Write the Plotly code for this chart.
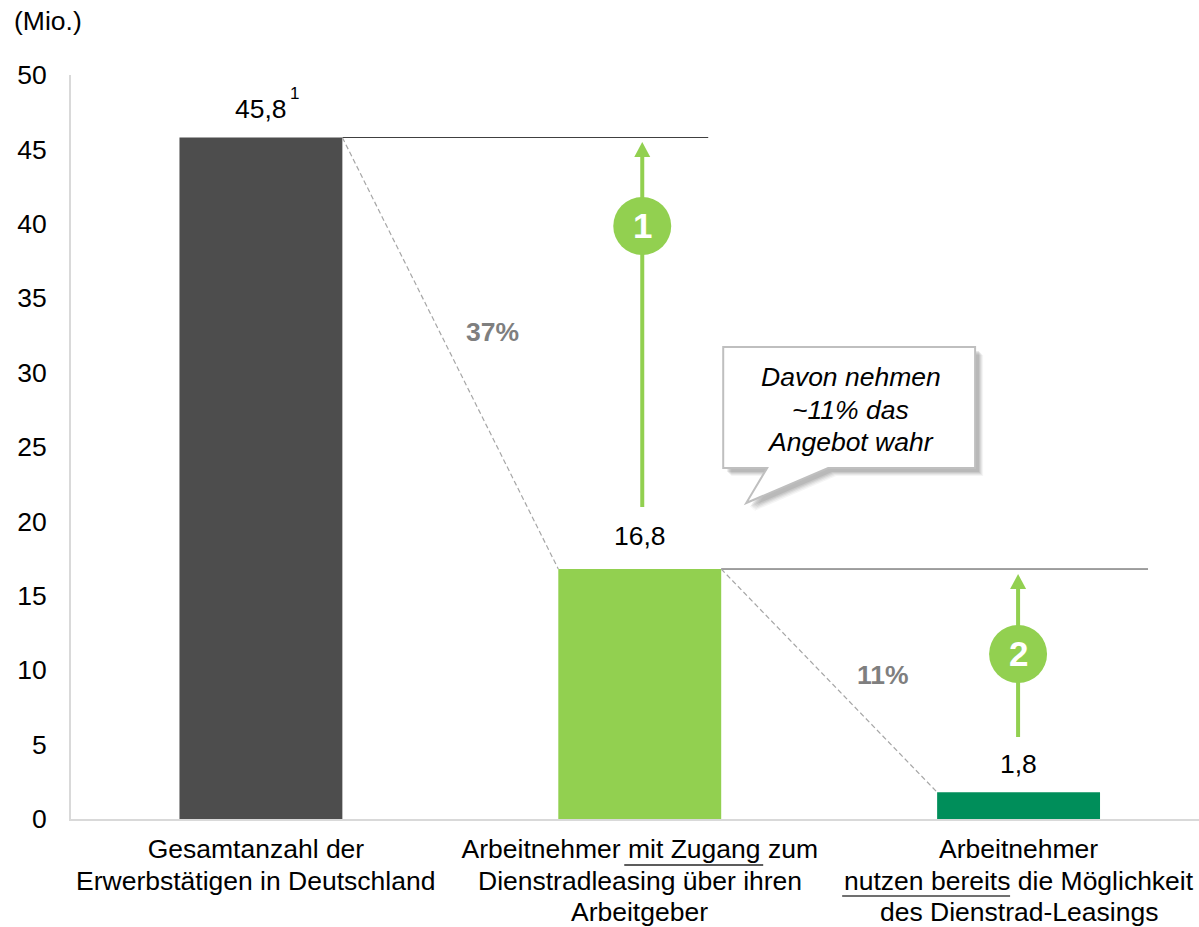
import plotly.graph_objects as go

categories = [["Gesamtanzahl der", "Erwerbstätigen in Deutschland"],
              ["Arbeitnehmer mit Zugang zum", "Dienstradleasing über ihren", "Arbeitgeber"],
              ["Arbeitnehmer", "nutzen bereits die Möglichkeit", "des Dienstrad-Leasings"]]
values = [45.8, 16.8, 1.8]
value_labels = ["45,8", "16,8", "1,8"]
bar_colors = ["#4D4D4D", "#92D050", "#008E5A"]
y_ticks = [0, 5, 10, 15, 20, 25, 30, 35, 40, 45, 50]
share_labels = ["37%", "11%"]
callout_lines = ["Davon nehmen", "~11% das", "Angebot wahr"]

W, H = 1199, 927
L, R, T, B = 70.5, 1199, 75, 819
FONT = "Liberation Sans"
FS = 26.5
BAR_W = 0.43
CAT_PX = 379
x_lo = -(260.5 - 70.5) / CAT_PX
x_hi = x_lo + (R - L) / CAT_PX
LABEL_SHIFT = -5 / CAT_PX  # first category label sits slightly left of its bar


def px(x):
    return x_lo + (x - L) / CAT_PX


def py(y):
    return (B - y) / (B - T) * 50


shapes = []
annotations = []


def line(x0, y0, x1, y1, color, width, dash="solid"):
    shapes.append(dict(type="line", xref="x", yref="y", x0=x0, y0=y0, x1=x1, y1=y1,
                       line=dict(color=color, width=width, dash=dash), layer="above"))


def paper_line(x0, x1, y, color, width):
    shapes.append(dict(type="line", xref="paper", yref="paper",
                       x0=(x0 - L) / (R - L), x1=(x1 - L) / (R - L),
                       y0=(B - y) / (B - T), y1=(B - y) / (B - T),
                       line=dict(color=color, width=width), layer="above"))


def poly(points, fill, border=None, bw=0):
    path = "M " + " L ".join(f"{px(a):.5f},{py(b):.5f}" for a, b in points) + " Z"
    shapes.append(dict(type="path", xref="x", yref="y", path=path, fillcolor=fill,
                       line=dict(color=border or "rgba(0,0,0,0)", width=bw), layer="above"))


def label(x, y, text, size=FS, color="#000000"):
    annotations.append(dict(xref="paper", yref="paper",
                            x=(x - L) / (R - L), y=(B - y) / (B - T), text=text,
                            showarrow=False, font=dict(family=FONT, size=size, color=color),
                            xanchor="center", yanchor="middle"))


# guide lines from the bar tops
line(0 + BAR_W / 2, values[0], px(708), values[0], "#404040", 1)
line(1 + BAR_W / 2, values[1], px(1148), values[1], "#404040", 1)
line(0 + BAR_W / 2, values[0], 1 - BAR_W / 2, values[1], "#A6A6A6", 1.2, "5px,3px")
line(1 + BAR_W / 2, values[1], 2 - BAR_W / 2, values[2], "#A6A6A6", 1.2, "5px,3px")

# arrows with numbered circles
ARROW = "#92D050"
for ax, y_from, y_to, cy, num in [(642, 507, 156, 226, "1"), (1018, 737, 588, 654, "2")]:
    line(px(ax), py(y_from), px(ax), py(y_to), ARROW, 4)
    poly([(ax - 8, y_to + 1), (ax, y_to - 14), (ax + 8, y_to + 1)], ARROW)
    shapes.append(dict(type="circle", xref="x", yref="y", x0=px(ax - 29), x1=px(ax + 29),
                       y0=py(cy + 29), y1=py(cy - 29), fillcolor=ARROW,
                       line=dict(width=0), layer="above"))
    label(ax, cy - 1, f"<b>{num}</b>", size=35, color="#FFFFFF")

# callout
callout = [(723, 347), (975, 347), (975, 468), (828, 468), (746, 503), (767, 468), (723, 468)]
for off, alpha in [(8, 0.06), (7, 0.08), (6, 0.10), (5, 0.12), (4, 0.14)]:
    poly([(a + off, b + off) for a, b in callout], f"rgba(90,90,90,{alpha})")
poly(callout, "#FFFFFF", "#BFBFBF", 2)
for t, yy in zip(callout_lines, [377, 410, 442]):
    label(850.5, yy, f"<i>{t}</i>")

# second and third lines of the category labels (first line is the tick label)
for cx, lines in zip([255.5, 639.5, 1018.5], categories):
    for t, yy in zip(lines[1:], [880.5, 912]):
        label(cx, yy, t)

# underlines in the category labels
paper_line(624, 763, 865, "#262626", 1.3)
paper_line(842, 1010, 896, "#404040", 1.3)

# share labels, unit and footnote mark
label(492, 332, f"<b>{share_labels[0]}</b>", color="#7F7F7F")
label(883, 675, f"<b>{share_labels[1]}</b>", color="#7F7F7F")
label(294, 94, "1", size=17)
label(47, 21, "(Mio.)")

# value labels above the bars
for i, (v, t, s) in enumerate(zip(values, value_labels, [29, 33, 28])):
    annotations.append(dict(xref="x", yref="y", x=i, y=v, text=t, showarrow=False,
                            xanchor="center", yanchor="middle", yshift=s,
                            font=dict(family=FONT, size=FS, color="#000000")))

fig = go.Figure(go.Bar(x=[0, 1, 2], y=values, width=BAR_W, marker=dict(color=bar_colors, line=dict(width=0)),
                       showlegend=False, hoverinfo="skip"))
fig.update_layout(
    width=W, height=H, autosize=False,
    margin=dict(l=L, r=W - R, t=T, b=H - B, pad=0),
    paper_bgcolor="#FFFFFF", plot_bgcolor="#FFFFFF",
    font=dict(family=FONT, size=FS, color="#000000"),
    shapes=shapes, annotations=annotations,
    xaxis=dict(range=[x_lo, x_hi], tickvals=[0 + LABEL_SHIFT, 1, 2], ticktext=[c[0] for c in categories],
               tickangle=0, showgrid=False, zeroline=False, showline=True, linecolor="#D9D9D9", linewidth=2,
               ticks="outside", ticklen=5, tickcolor="rgba(0,0,0,0)",
               tickfont=dict(family=FONT, size=FS, color="#000000")),
    yaxis=dict(range=[0, 50], tickvals=y_ticks, showgrid=False, zeroline=False, showline=True,
               linecolor="#D9D9D9", linewidth=2, ticks="outside", ticklen=17,
               tickcolor="rgba(0,0,0,0)",
               tickfont=dict(family=FONT, size=FS, color="#000000")),
)
fig.write_html("out.html", config=dict(displayModeBar=False),
               post_script="document.body.style.margin='0';document.documentElement.style.overflow='hidden';")
